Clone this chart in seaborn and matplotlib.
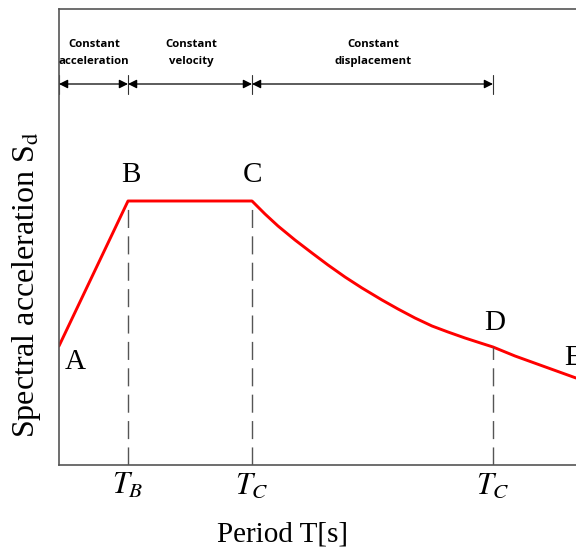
import matplotlib
matplotlib.use("Agg")
import matplotlib.pyplot as plt
import seaborn as sns
import numpy as np

# ---- data ----
period = [0.0, 0.69, 1.93, 2.06, 2.19, 2.36, 2.53, 2.69, 2.86, 3.03, 3.23, 3.39,
          3.56, 3.73, 3.89, 4.06, 4.23, 4.34, 4.56, 5.17]
accel = [1.19, 2.64, 2.64, 2.51, 2.39, 2.25, 2.12, 2.00, 1.88, 1.77, 1.65, 1.56,
         1.47, 1.39, 1.33, 1.27, 1.215, 1.18, 1.09, 0.87]
corner_T = [0.69, 1.93, 4.34]
corner_S = [2.64, 2.64, 1.18]
tick_labels = [r"$T_B$", r"$T_C$", r"$T_C$"]
point_names = ["A", "B", "C", "D", "E"]
point_pos = [(0.16, 1.03), (0.72, 2.90), (1.93, 2.90), (4.36, 1.42), (5.14, 1.07)]
region_bounds = [0.0, 0.69, 1.93, 4.34]
region_names = ["Constant\nacceleration", "Constant\nvelocity", "Constant\ndisplacement"]
region_text_x = [0.35, 1.32, 3.14]

sns.set_theme(style="white")
plt.rcParams["font.family"] = ["Liberation Serif", "DejaVu Serif"]
plt.rcParams["mathtext.fontset"] = "stix"
plt.rcParams["text.color"] = "black"
plt.rcParams["axes.labelcolor"] = "black"
plt.rcParams["xtick.color"] = "black"

fig = plt.figure(figsize=(5.76, 5.55), dpi=100)
ax = fig.add_axes([59 / 576, 90 / 555, 1 - 59 / 576, (465 - 9) / 555])

sns.lineplot(x=period, y=accel, sort=False, color="#ff0000", lw=2.1, ax=ax)

for t, s in zip(corner_T, corner_S):
    ax.plot([t, t], [0, s], color="#555555", lw=1.0, ls=(0, (13, 6)))

ax.set_xlim(0, 5.17)
ax.set_ylim(0, 4.56)
ax.set_xticks(corner_T)
ax.set_xticklabels(tick_labels, fontsize=22)
ax.set_yticks([])
ax.tick_params(axis="x", length=0, pad=5)

for side in ["left", "top", "bottom"]:
    ax.spines[side].set_color("#555555")
    ax.spines[side].set_linewidth(1.2)
ax.spines["right"].set_visible(False)

ax.set_xlabel("Period T[s]", fontsize=21)
ax.xaxis.set_label_coords(0.433, -0.125)
ax.set_ylabel(r"Spectral acceleration S$_{\mathrm{d}}$", fontsize=23)
ax.yaxis.set_label_coords(-0.031, 0.395)

for name, (px, py) in zip(point_names, point_pos):
    ax.text(px, py, name, fontsize=21, ha="center", va="center", clip_on=False)

# region arrows
y_arrow = 3.81
for x0, x1 in zip(region_bounds[:-1], region_bounds[1:]):
    ax.annotate("", xy=(x1, y_arrow), xytext=(x0, y_arrow),
                arrowprops=dict(arrowstyle="<|-|>", color="black", lw=0.9,
                                mutation_scale=13, shrinkA=0, shrinkB=0))
for x in region_bounds:
    ax.plot([x, x], [y_arrow - 0.1, y_arrow + 0.09], color="#333333", lw=0.8)

for x, name in zip(region_text_x, region_names):
    ax.text(x, 4.12, name, fontsize=8.2, ha="center", va="center",
            family=["Open Sans", "DejaVu Sans"], fontweight="bold",
            linespacing=1.75)

fig.savefig("out.png", dpi=100)
